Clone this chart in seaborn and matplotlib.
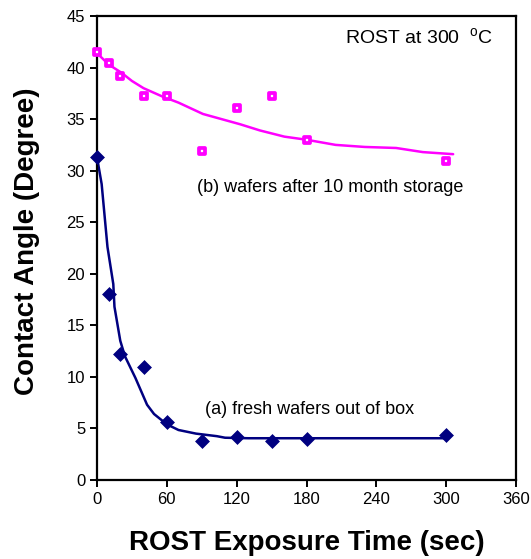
import matplotlib
matplotlib.use("Agg")
import matplotlib.pyplot as plt
import seaborn as sns
import pandas as pd

# measured points
time_a = [0, 10, 20, 40, 60, 90, 120, 150, 180, 300]
angle_a = [31.3, 18.0, 12.2, 11.0, 5.6, 3.8, 4.2, 3.8, 4.0, 4.4]
time_b = [0, 10, 20, 40, 60, 90, 120, 150, 180, 300]
angle_b = [41.5, 40.4, 39.2, 37.2, 37.2, 31.9, 36.1, 37.2, 33.0, 30.9]

# trend curves
fit_t_a = [0, 4, 9, 14, 15, 20, 24, 33, 43, 49, 60, 70, 85, 103, 110, 130, 300]
fit_v_a = [31.3, 28.7, 22.6, 19.0, 16.8, 13.5, 12.0, 9.9, 7.3, 6.4, 5.4, 4.85, 4.5, 4.25, 4.1, 4.05, 4.05]
fit_t_b = [0, 10, 21, 30, 40, 56, 70, 91, 123, 140, 161, 180, 205, 230, 257, 280, 306]
fit_v_b = [41.4, 40.3, 39.5, 38.7, 38.0, 37.2, 36.6, 35.5, 34.5, 33.9, 33.3, 33.0, 32.5, 32.3, 32.2, 31.8, 31.6]

x_ticks = [0, 60, 120, 180, 240, 300, 360]
y_ticks = [0, 5, 10, 15, 20, 25, 30, 35, 40, 45]

sns.set_style("white")
plt.rcParams['font.family'] = ['Liberation Sans', 'DejaVu Sans']
plt.rcParams['mathtext.fontset'] = 'custom'
plt.rcParams['mathtext.rm'] = 'Liberation Sans'
plt.rcParams['text.color'] = 'black'
plt.rcParams['axes.labelcolor'] = 'black'

fig = plt.figure(figsize=(5.31, 5.59), dpi=100)
ax = fig.add_axes([97/531, 1 - 480/559, (516 - 97)/531, (480 - 16)/559])

navy = "#000080"
mag = "#FF00FF"

df_fa = pd.DataFrame({"t": fit_t_a, "v": fit_v_a})
df_fb = pd.DataFrame({"t": fit_t_b, "v": fit_v_b})
sns.lineplot(data=df_fa, x="t", y="v", ax=ax, color=navy, lw=1.8, sort=False)
sns.lineplot(data=df_fb, x="t", y="v", ax=ax, color=mag, lw=1.8, sort=False)

df_a = pd.DataFrame({"t": time_a, "v": angle_a})
df_b = pd.DataFrame({"t": time_b, "v": angle_b})
sns.scatterplot(data=df_a, x="t", y="v", ax=ax, marker="D", s=50, color=navy,
                edgecolor=navy, linewidth=0.5, zorder=5, clip_on=False)
sns.scatterplot(data=df_b, x="t", y="v", ax=ax, marker="s", s=18, facecolor="white",
                edgecolor=mag, linewidth=2.7, zorder=5, clip_on=False)

ax.set_xlim(0, 360)
ax.set_ylim(0, 45)
ax.set_xticks(x_ticks)
ax.set_yticks(y_ticks)
ax.tick_params(direction="out", length=5, width=1.4, labelsize=12, colors="black",
               bottom=True, left=True)
for s in ax.spines.values():
    s.set_visible(True)
    s.set_color("black")
    s.set_linewidth(1.6)

ax.set_xlabel("ROST Exposure Time (sec)", fontsize=20, fontweight="bold", labelpad=17)
ax.set_ylabel("Contact Angle (Degree)", fontsize=20, fontweight="bold")
ax.yaxis.set_label_coords(-0.137, 0.514)

ax.text(213, 42.9, r"ROST at 300  $^{\mathrm{o}}$C", fontsize=14, ha="left", va="center")
ax.text(86, 28.4, "(b) wafers after 10 month storage", fontsize=13, ha="left", va="center")
ax.text(93, 6.8, "(a) fresh wafers out of box", fontsize=13, ha="left", va="center")

fig.savefig("out.png", dpi=100)
